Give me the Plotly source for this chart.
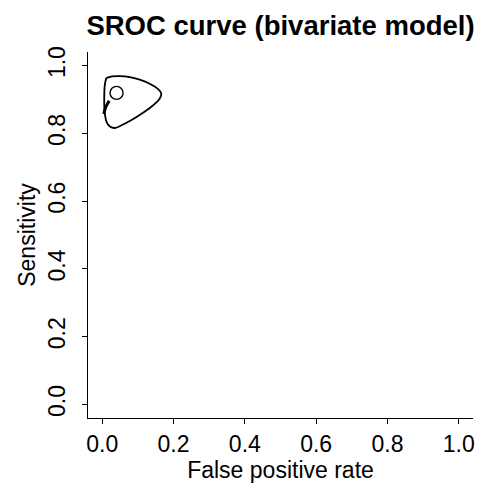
import plotly.graph_objects as go

# Confidence region
region_fpr = [0.0123, 0.0262, 0.0493, 0.0772, 0.1051, 0.1330, 0.1561, 0.1656, 0.1609,
              0.1422, 0.1143, 0.0820, 0.0541, 0.0354, 0.0215, 0.0123, 0.0075, 0.0056,
              0.0056, 0.0067, 0.0095, 0.0123]
region_sens = [0.9632, 0.9678, 0.9690, 0.9661, 0.9582, 0.9465, 0.9310, 0.9173, 0.9018,
               0.8822, 0.8608, 0.8392, 0.8237, 0.8158, 0.8199, 0.8333, 0.8558, 0.8801,
               0.9094, 0.9386, 0.9561, 0.9632]

# SROC curve segment
sroc_fpr = [0.0195, 0.0089, 0.0047]
sroc_sens = [0.896, 0.875, 0.857]

# Summary point
mean_fpr = [0.0401]
mean_sens = [0.9193]

tick_vals = [0.0, 0.2, 0.4, 0.6, 0.8, 1.0]
tick_text = ["0.0", "0.2", "0.4", "0.6", "0.8", "1.0"]

FONT = "Liberation Sans, Arial, sans-serif"

fig = go.Figure()
fig.add_trace(go.Scatter(x=region_fpr, y=region_sens, mode="lines",
                         line=dict(color="black", width=1.8, shape="spline", smoothing=1.0),
                         hoverinfo="skip"))
fig.add_trace(go.Scatter(x=sroc_fpr, y=sroc_sens, mode="lines",
                         line=dict(color="black", width=3, shape="spline"),
                         hoverinfo="skip"))
fig.add_trace(go.Scatter(x=mean_fpr, y=mean_sens, mode="markers",
                         marker=dict(symbol="circle-open", size=13, color="black",
                                     line=dict(width=1.4, color="black")),
                         hoverinfo="skip"))

axis_common = dict(range=[-0.04, 1.04], tickvals=tick_vals, ticktext=tick_text,
                   showgrid=False, zeroline=False, showline=True, linecolor="black",
                   linewidth=1, ticks="outside", ticklen=5, tickwidth=1, tickcolor="black",
                   tickfont=dict(family=FONT, size=23, color="black"))

fig.update_layout(
    width=481, height=483,
    margin=dict(l=88, r=6, t=52, b=62),
    paper_bgcolor="white", plot_bgcolor="white",
    showlegend=False,
    title=dict(text="SROC curve (bivariate model)", x=0.5, xref="paper", xanchor="center",
               y=1 - 25 / 483, yref="container", yanchor="middle",
               font=dict(family=FONT, size=27.5, color="black", weight="bold")),
    xaxis=dict(**axis_common,
               title=dict(text="False positive rate", standoff=4,
                          font=dict(family=FONT, size=23, color="black"))),
    yaxis=dict(**axis_common, tickangle=-90, ticklabelstandoff=8,
               title=dict(text="Sensitivity", standoff=1,
                          font=dict(family=FONT, size=23, color="black"))),
)

fig.write_html("out.html")
